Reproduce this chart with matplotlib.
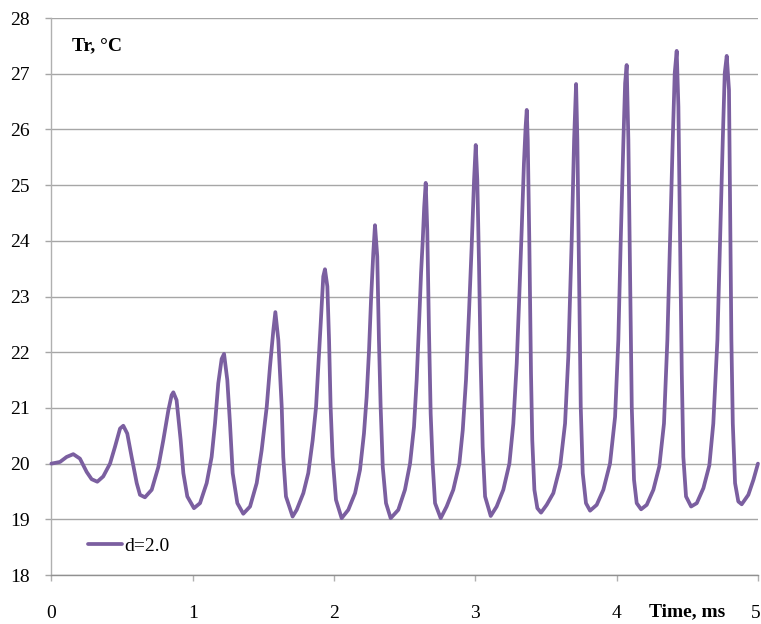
import matplotlib
matplotlib.use("Agg")
import matplotlib.pyplot as plt
from matplotlib.transforms import ScaledTranslation

time_ms = [
    0.000, 0.061, 0.108, 0.155, 0.202, 0.250, 0.285, 0.325, 0.367, 0.415,
    0.450, 0.486, 0.509, 0.537, 0.568, 0.604, 0.627, 0.662, 0.710, 0.757,
    0.792, 0.828, 0.851, 0.863, 0.886, 0.915, 0.934, 0.962, 1.009,
    1.052, 1.099, 1.134, 1.158, 1.181, 1.205, 1.222, 1.245, 1.264, 1.283, 1.316, 1.358,
    1.406, 1.453, 1.488, 1.524, 1.547, 1.571, 1.585, 1.606, 1.630, 1.641, 1.660, 1.707,
    1.736, 1.783, 1.818, 1.849, 1.873, 1.889, 1.906, 1.924, 1.936, 1.953, 1.965, 1.976, 1.990, 2.014, 2.054,
    2.101, 2.149, 2.184, 2.212, 2.231, 2.248, 2.262, 2.278, 2.290, 2.306, 2.318, 2.330, 2.345, 2.368, 2.401,
    2.455, 2.502, 2.538, 2.566, 2.585, 2.602, 2.616, 2.628, 2.638, 2.649,
    2.660, 2.672, 2.684, 2.698, 2.715, 2.755,
    2.797, 2.844, 2.887, 2.911, 2.934, 2.955, 2.974, 2.991, 3.003,
    3.014, 3.026, 3.038, 3.052, 3.069, 3.109,
    3.151, 3.198, 3.241, 3.269, 3.293, 3.311, 3.328, 3.344, 3.356, 3.364,
    3.371, 3.382, 3.394, 3.403, 3.418, 3.439, 3.465,
    3.505, 3.552, 3.600, 3.635, 3.658, 3.682, 3.699, 3.713,
    3.722, 3.734, 3.746, 3.760, 3.783, 3.812,
    3.859, 3.906, 3.953, 3.989, 4.012, 4.029, 4.048, 4.060, 4.071,
    4.083, 4.095, 4.107, 4.123, 4.142, 4.173,
    4.213, 4.260, 4.302, 4.335, 4.359, 4.378, 4.397, 4.411, 4.425,
    4.437, 4.449, 4.461, 4.472, 4.491, 4.527,
    4.567, 4.614, 4.656, 4.684, 4.713, 4.732, 4.751, 4.765, 4.779,
    4.795, 4.803, 4.812, 4.822, 4.838, 4.861, 4.885,
    4.932, 4.968, 5.000,
]

temp_c = [
    20.00, 20.03, 20.12, 20.17, 20.09, 19.85, 19.72, 19.675, 19.77, 20.00,
    20.30, 20.63, 20.68, 20.54, 20.12, 19.65, 19.44, 19.395, 19.53, 19.94,
    20.42, 20.96, 21.23, 21.28, 21.14, 20.42, 19.83, 19.41, 19.20,
    19.29, 19.65, 20.12, 20.72, 21.44, 21.88, 21.97, 21.50, 20.72, 19.83, 19.29, 19.10,
    19.23, 19.65, 20.24, 21.02, 21.74, 22.40, 22.72, 22.22, 21.02, 20.12, 19.41, 19.05,
    19.17, 19.47, 19.83, 20.42, 21.02, 21.74, 22.52, 23.36, 23.49, 23.18, 22.22, 21.02, 20.12, 19.35, 19.02,
    19.17, 19.47, 19.89, 20.54, 21.20, 22.04, 22.94, 23.78, 24.28, 23.72, 22.22, 21.02, 19.94, 19.29, 19.02,
    19.17, 19.53, 20.00, 20.66, 21.50, 22.52, 23.42, 24.01, 24.60, 25.04,
    24.19, 22.40, 20.90, 20.00, 19.29, 19.02,
    19.23, 19.53, 20.00, 20.60, 21.50, 22.70, 23.89, 25.09, 25.72,
    25.09, 23.60, 21.80, 20.30, 19.41, 19.06,
    19.23, 19.53, 20.00, 20.72, 21.80, 23.00, 24.19, 25.39, 26.05, 26.35,
    25.81, 24.01, 21.62, 20.42, 19.53, 19.20, 19.12,
    19.26, 19.47, 19.95, 20.72, 21.92, 24.01, 25.81, 26.815,
    25.81, 23.42, 21.02, 19.83, 19.29, 19.155,
    19.26, 19.53, 20.00, 20.84, 22.22, 24.01, 25.81, 26.83, 27.156,
    25.81, 23.42, 21.02, 19.71, 19.29, 19.18,
    19.26, 19.53, 19.95, 20.72, 22.22, 24.01, 25.81, 27.01, 27.41,
    26.41, 24.01, 21.62, 20.12, 19.41, 19.23,
    19.29, 19.56, 19.97, 20.72, 22.22, 24.01, 25.81, 27.01, 27.32,
    26.71, 24.61, 22.22, 20.72, 19.65, 19.32, 19.27,
    19.44, 19.71, 20.00,
]

series_label = "d=2.0"
x_ticks = [0, 1, 2, 3, 4, 5]
y_ticks = [18, 19, 20, 21, 22, 23, 24, 25, 26, 27, 28]

plt.rcParams['font.family'] = ['Liberation Serif', 'DejaVu Serif']

fig = plt.figure(figsize=(7.61, 6.24), dpi=100)
ax = fig.add_axes([0.0675, 0.0785, 0.9285, 0.8926])

ax.plot(time_ms, temp_c, color='#7b5fa0', lw=2.7, label=series_label,
        solid_joinstyle='round', solid_capstyle='round', clip_on=False, zorder=3)

ax.set_xlim(0, 5)
ax.set_ylim(18, 28)
ax.set_xticks(x_ticks)
ax.set_yticks(y_ticks)
ax.set_xticklabels([str(v) for v in x_ticks])
ax.set_yticklabels([str(v) for v in y_ticks])

ax.grid(axis='y', color='#a6a6a6', lw=1.0)
ax.set_axisbelow(True)
for s in ['top', 'right']:
    ax.spines[s].set_visible(False)
ax.spines['left'].set_color('#b0b0b0')
ax.spines['bottom'].set_color('#909090')
ax.spines['left'].set_linewidth(1.0)
ax.spines['bottom'].set_linewidth(1.0)

ax.tick_params(axis='y', length=4.5, width=1.0, color='#a6a6a6', pad=11, labelsize=14)
ax.tick_params(axis='x', length=4.5, width=1.0, color='#b0b0b0', pad=17, labelsize=14)

# keep the last x tick label inside the figure, as in the reference
last = ax.get_xticklabels()[-1]
last.set_transform(last.get_transform() + ScaledTranslation(-2 / 100, 0, fig.dpi_scale_trans))

ax.text(0.029, 0.951, "Tr, °C", transform=ax.transAxes, fontsize=14,
        fontweight='bold', ha='left', va='center')
ax.text(687, 624 - 612, "Time, ms", transform=None, fontsize=14, fontweight='bold',
        ha='center', va='center')

leg = ax.legend(loc='center left', bbox_to_anchor=(0.052, 0.052), frameon=False,
                fontsize=14, handlelength=1.75, handletextpad=0.1,
                borderpad=0, borderaxespad=0)

fig.savefig("out.png", dpi=100)
